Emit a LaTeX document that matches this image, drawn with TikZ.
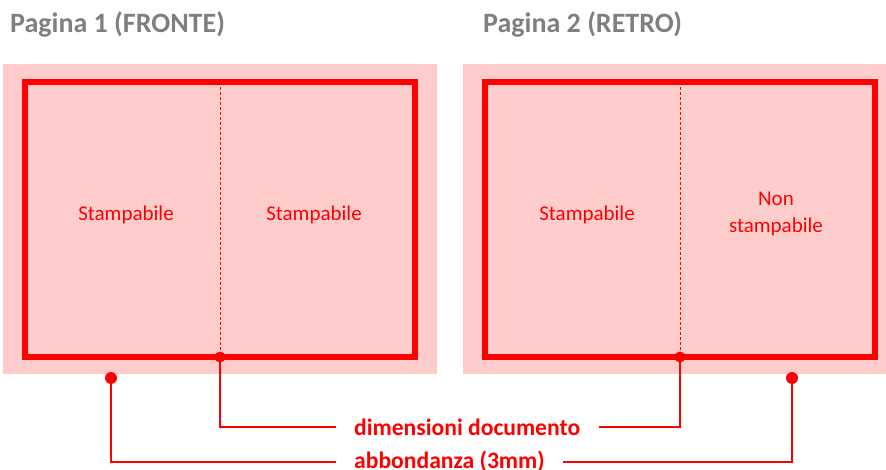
\documentclass[tikz,border=0pt]{standalone}
\usepackage{fontspec}
\setmainfont{Carlito}
\definecolor{bleedpink}{HTML}{FFCCCC}
\definecolor{cutred}{HTML}{FF0000}
\definecolor{titlegray}{HTML}{7F7F7F}
\begin{document}
\begin{tikzpicture}[x=1pt,y=-1pt,
  bleedbox/.style={fill=bleedpink, draw=none, minimum width=434pt, minimum height=310pt, inner sep=0pt, outer sep=0pt},
  pagebox/.style={draw=cutred, line width=6pt, minimum width=390pt, minimum height=275pt, inner sep=0pt, outer sep=0pt},
  foldline/.style={draw=cutred, line width=0.9pt, dash pattern=on 3pt off 2pt},
  conn/.style={draw=cutred, line width=2.6pt},
  dotmark/.style={fill=cutred},
  titletext/.style={text=titlegray, font=\fontsize{28}{32}\selectfont\bfseries, inner sep=0pt, anchor=base west},
  lbltext/.style={text=cutred, font=\fontsize{23.6}{27}\selectfont\bfseries, inner xsep=18.5pt, inner ysep=0pt, anchor=west},
  halftext/.style={text=cutred, font=\fontsize{21}{27}\selectfont, align=center, inner sep=0pt}
]
\useasboundingbox (0,0) rectangle (886,470);
% bleed areas
\node[bleedbox] (bleedL) at (220,219) {};
\node[bleedbox] (bleedR) at (680,219) {};
% page frames
\node[pagebox] (pageL) at (220,219.5) {};
\node[pagebox] (pageR) at (680,219.5) {};
% fold lines
\draw[foldline] (pageL.north) -- (pageL.south);
\draw[foldline] (pageR.north) -- (pageR.south);
% titles
\node[titletext] (titleL) at (10,33) {Pagina 1 (FRONTE)};
\node[titletext] (titleR) at (483,33) {Pagina 2 (RETRO)};
% half texts
\node[halftext] (sL1) at (126,215) {Stampabile};
\node[halftext] (sL2) at (314,215) {Stampabile};
\node[halftext] (sR1) at (587,215) {Stampabile};
\node[halftext] (sR2) at (776,214) {Non\\stampabile};
% marker points
\coordinate (bleedLdot) at (111,378);
\coordinate (bleedRdot) at (792,378);
% labels
\node[lbltext] (dimlbl) at (335.5,427) {dimensioni documento};
\node[lbltext] (abblbl) at (335.5,462) {abbondanza (3mm)};
% connectors
\draw[conn] (pageL.south) |- (dimlbl.west);
\draw[conn] (dimlbl.east) -| (pageR.south);
\draw[conn] (bleedLdot) |- (abblbl.west);
\draw[conn] (abblbl.east) -| (bleedRdot);
% dots
\fill[dotmark] (pageL.south) circle (5.5);
\fill[dotmark] (pageR.south) circle (5.5);
\fill[dotmark] (bleedLdot) circle (6);
\fill[dotmark] (bleedRdot) circle (6);
\end{tikzpicture}
\end{document}
